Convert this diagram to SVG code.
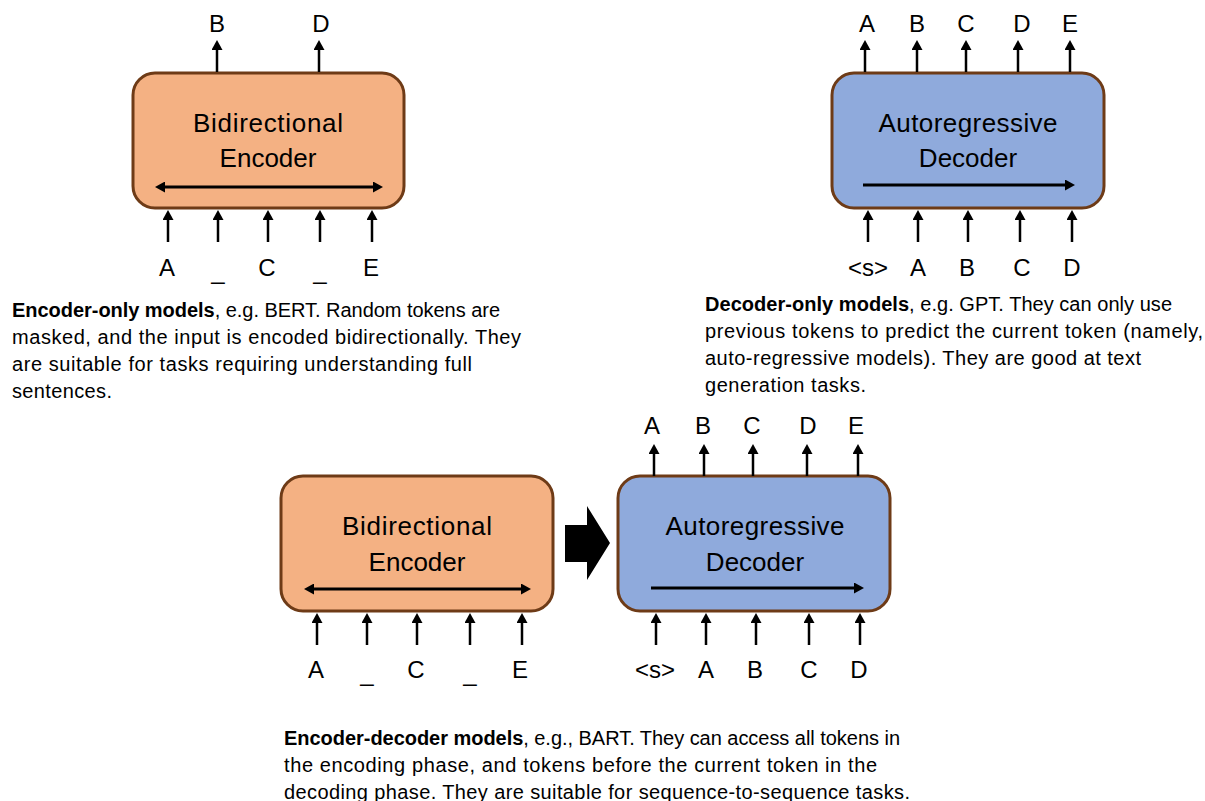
<svg xmlns="http://www.w3.org/2000/svg" width="1205" height="801" viewBox="0 0 1205 801">
<style>
text{font-family:"Liberation Sans",Arial,sans-serif;fill:#000}
.tok{font-size:24px;text-anchor:middle}
.lbl{font-size:26px;text-anchor:middle}
.desc{font-size:20px}
.b{font-weight:bold}
.enc{fill:#F4B183;stroke:#6E3B17;stroke-width:3}
.dec{fill:#8FAADC;stroke:#6E3B17;stroke-width:3}
.ar{stroke:#000;stroke-width:2.5;fill:none;marker-end:url(#ah)}
.ar2{stroke:#000;stroke-width:2.5;fill:none;marker-end:url(#ah);marker-start:url(#ah)}
.in{stroke-width:3}
</style>
<defs>
<marker id="ah" viewBox="0 0 10 10" refX="2" refY="5" markerWidth="10" markerHeight="11" markerUnits="userSpaceOnUse" orient="auto-start-reverse" preserveAspectRatio="none">
<path d="M0,0 L10,5 L0,10 z" fill="#000"/>
</marker>
</defs>

<g id="enc1">
<rect class="enc" x="133" y="73" width="271" height="135" rx="22"/>
<text class="lbl" x="268" y="132" textLength="150">Bidirectional</text>
<text class="lbl" x="268" y="167">Encoder</text>
</g>
<g id="dec1">
<rect class="dec" x="832" y="73" width="272" height="135" rx="22"/>
<text class="lbl" x="968" y="132" textLength="179">Autoregressive</text>
<text class="lbl" x="968" y="167">Decoder</text>
</g>
<g id="enc2">
<rect class="enc" x="281" y="476" width="272" height="135" rx="22"/>
<text class="lbl" x="417" y="535" textLength="150">Bidirectional</text>
<text class="lbl" x="417" y="571">Encoder</text>
</g>
<g id="dec2">
<rect class="dec" x="618" y="476" width="272" height="135" rx="22"/>
<text class="lbl" x="755" y="535" textLength="179">Autoregressive</text>
<text class="lbl" x="755" y="571">Decoder</text>
</g>
<g id="flow">
<polygon points="565,525 587,525 587,506 610,543 587,580 587,562 565,562" fill="#000"/>
</g>

<g id="connectors">
<line class="ar" x1="217" y1="72" x2="217" y2="48"/>
<line class="ar" x1="319" y1="72" x2="319" y2="48"/>
<line class="ar" x1="168" y1="242" x2="168" y2="218"/>
<line class="ar" x1="218" y1="242" x2="218" y2="218"/>
<line class="ar" x1="268" y1="242" x2="268" y2="218"/>
<line class="ar" x1="320" y1="242" x2="320" y2="218"/>
<line class="ar" x1="372" y1="242" x2="372" y2="218"/>
<line class="ar2 in" x1="163" y1="187" x2="375" y2="187"/>
<line class="ar" x1="865" y1="72" x2="865" y2="48"/>
<line class="ar" x1="917" y1="72" x2="917" y2="48"/>
<line class="ar" x1="966" y1="72" x2="966" y2="48"/>
<line class="ar" x1="1018" y1="72" x2="1018" y2="48"/>
<line class="ar" x1="1070" y1="72" x2="1070" y2="48"/>
<line class="ar" x1="868" y1="242" x2="868" y2="218"/>
<line class="ar" x1="918" y1="242" x2="918" y2="218"/>
<line class="ar" x1="968" y1="242" x2="968" y2="218"/>
<line class="ar" x1="1020" y1="242" x2="1020" y2="218"/>
<line class="ar" x1="1072" y1="242" x2="1072" y2="218"/>
<line class="ar in" x1="863" y1="185" x2="1067" y2="185"/>
<line class="ar" x1="317" y1="645" x2="317" y2="621"/>
<line class="ar" x1="367" y1="645" x2="367" y2="621"/>
<line class="ar" x1="417" y1="645" x2="417" y2="621"/>
<line class="ar" x1="470" y1="645" x2="470" y2="621"/>
<line class="ar" x1="522" y1="645" x2="522" y2="621"/>
<line class="ar2 in" x1="312" y1="589" x2="523" y2="589"/>
<line class="ar" x1="654" y1="476" x2="654" y2="452"/>
<line class="ar" x1="704" y1="476" x2="704" y2="452"/>
<line class="ar" x1="753" y1="476" x2="753" y2="452"/>
<line class="ar" x1="807" y1="476" x2="807" y2="452"/>
<line class="ar" x1="858" y1="476" x2="858" y2="452"/>
<line class="ar" x1="656" y1="645" x2="656" y2="621"/>
<line class="ar" x1="706" y1="645" x2="706" y2="621"/>
<line class="ar" x1="756" y1="645" x2="756" y2="621"/>
<line class="ar" x1="809" y1="645" x2="809" y2="621"/>
<line class="ar" x1="860" y1="645" x2="860" y2="621"/>
<line class="ar in" x1="651" y1="588" x2="856" y2="588"/>
</g>

<g id="tokens">
<text class="tok" x="217" y="32">B</text>
<text class="tok" x="321" y="32">D</text>
<text class="tok" x="167" y="276">A</text>
<text class="tok" x="218" y="279">_</text>
<text class="tok" x="267" y="276">C</text>
<text class="tok" x="320" y="279">_</text>
<text class="tok" x="371" y="276">E</text>

<text class="tok" x="867" y="32">A</text>
<text class="tok" x="917" y="32">B</text>
<text class="tok" x="966" y="32">C</text>
<text class="tok" x="1022" y="32">D</text>
<text class="tok" x="1070" y="32">E</text>
<text class="tok" x="868" y="276">&lt;s&gt;</text>
<text class="tok" x="918" y="276">A</text>
<text class="tok" x="967" y="276">B</text>
<text class="tok" x="1022" y="276">C</text>
<text class="tok" x="1072" y="276">D</text>

<text class="tok" x="316" y="678">A</text>
<text class="tok" x="367" y="681">_</text>
<text class="tok" x="416" y="678">C</text>
<text class="tok" x="470" y="681">_</text>
<text class="tok" x="520" y="678">E</text>

<text class="tok" x="652" y="434">A</text>
<text class="tok" x="703" y="434">B</text>
<text class="tok" x="752" y="434">C</text>
<text class="tok" x="808" y="434">D</text>
<text class="tok" x="856" y="434">E</text>
<text class="tok" x="655" y="678">&lt;s&gt;</text>
<text class="tok" x="706" y="678">A</text>
<text class="tok" x="755" y="678">B</text>
<text class="tok" x="809" y="678">C</text>
<text class="tok" x="859" y="678">D</text>
</g>

<g id="desc-encoder">
<text class="desc" x="12" y="317" textLength="488"><tspan class="b">Encoder-only models</tspan>, e.g. BERT. Random tokens are</text>
<text class="desc" x="12" y="344" textLength="509">masked, and the input is encoded bidirectionally. They</text>
<text class="desc" x="12" y="371" textLength="460">are suitable for tasks requiring understanding full</text>
<text class="desc" x="12" y="398" textLength="100">sentences.</text>
</g>
<g id="desc-decoder">
<text class="desc" x="705" y="311" textLength="467"><tspan class="b">Decoder-only models</tspan>, e.g. GPT. They can only use</text>
<text class="desc" x="705" y="338" textLength="498">previous tokens to predict the current token (namely,</text>
<text class="desc" x="705" y="365" textLength="436">auto-regressive models). They are good at text</text>
<text class="desc" x="705" y="392" textLength="161">generation tasks.</text>
</g>
<g id="desc-encdec">
<text class="desc" x="284" y="745" textLength="616"><tspan class="b">Encoder-decoder models</tspan>, e.g., BART. They can access all tokens in</text>
<text class="desc" x="284" y="772" textLength="593">the encoding phase, and tokens before the current token in the</text>
<text class="desc" x="284" y="799" textLength="626">decoding phase. They are suitable for sequence-to-sequence tasks.</text>
</g>
</svg>
